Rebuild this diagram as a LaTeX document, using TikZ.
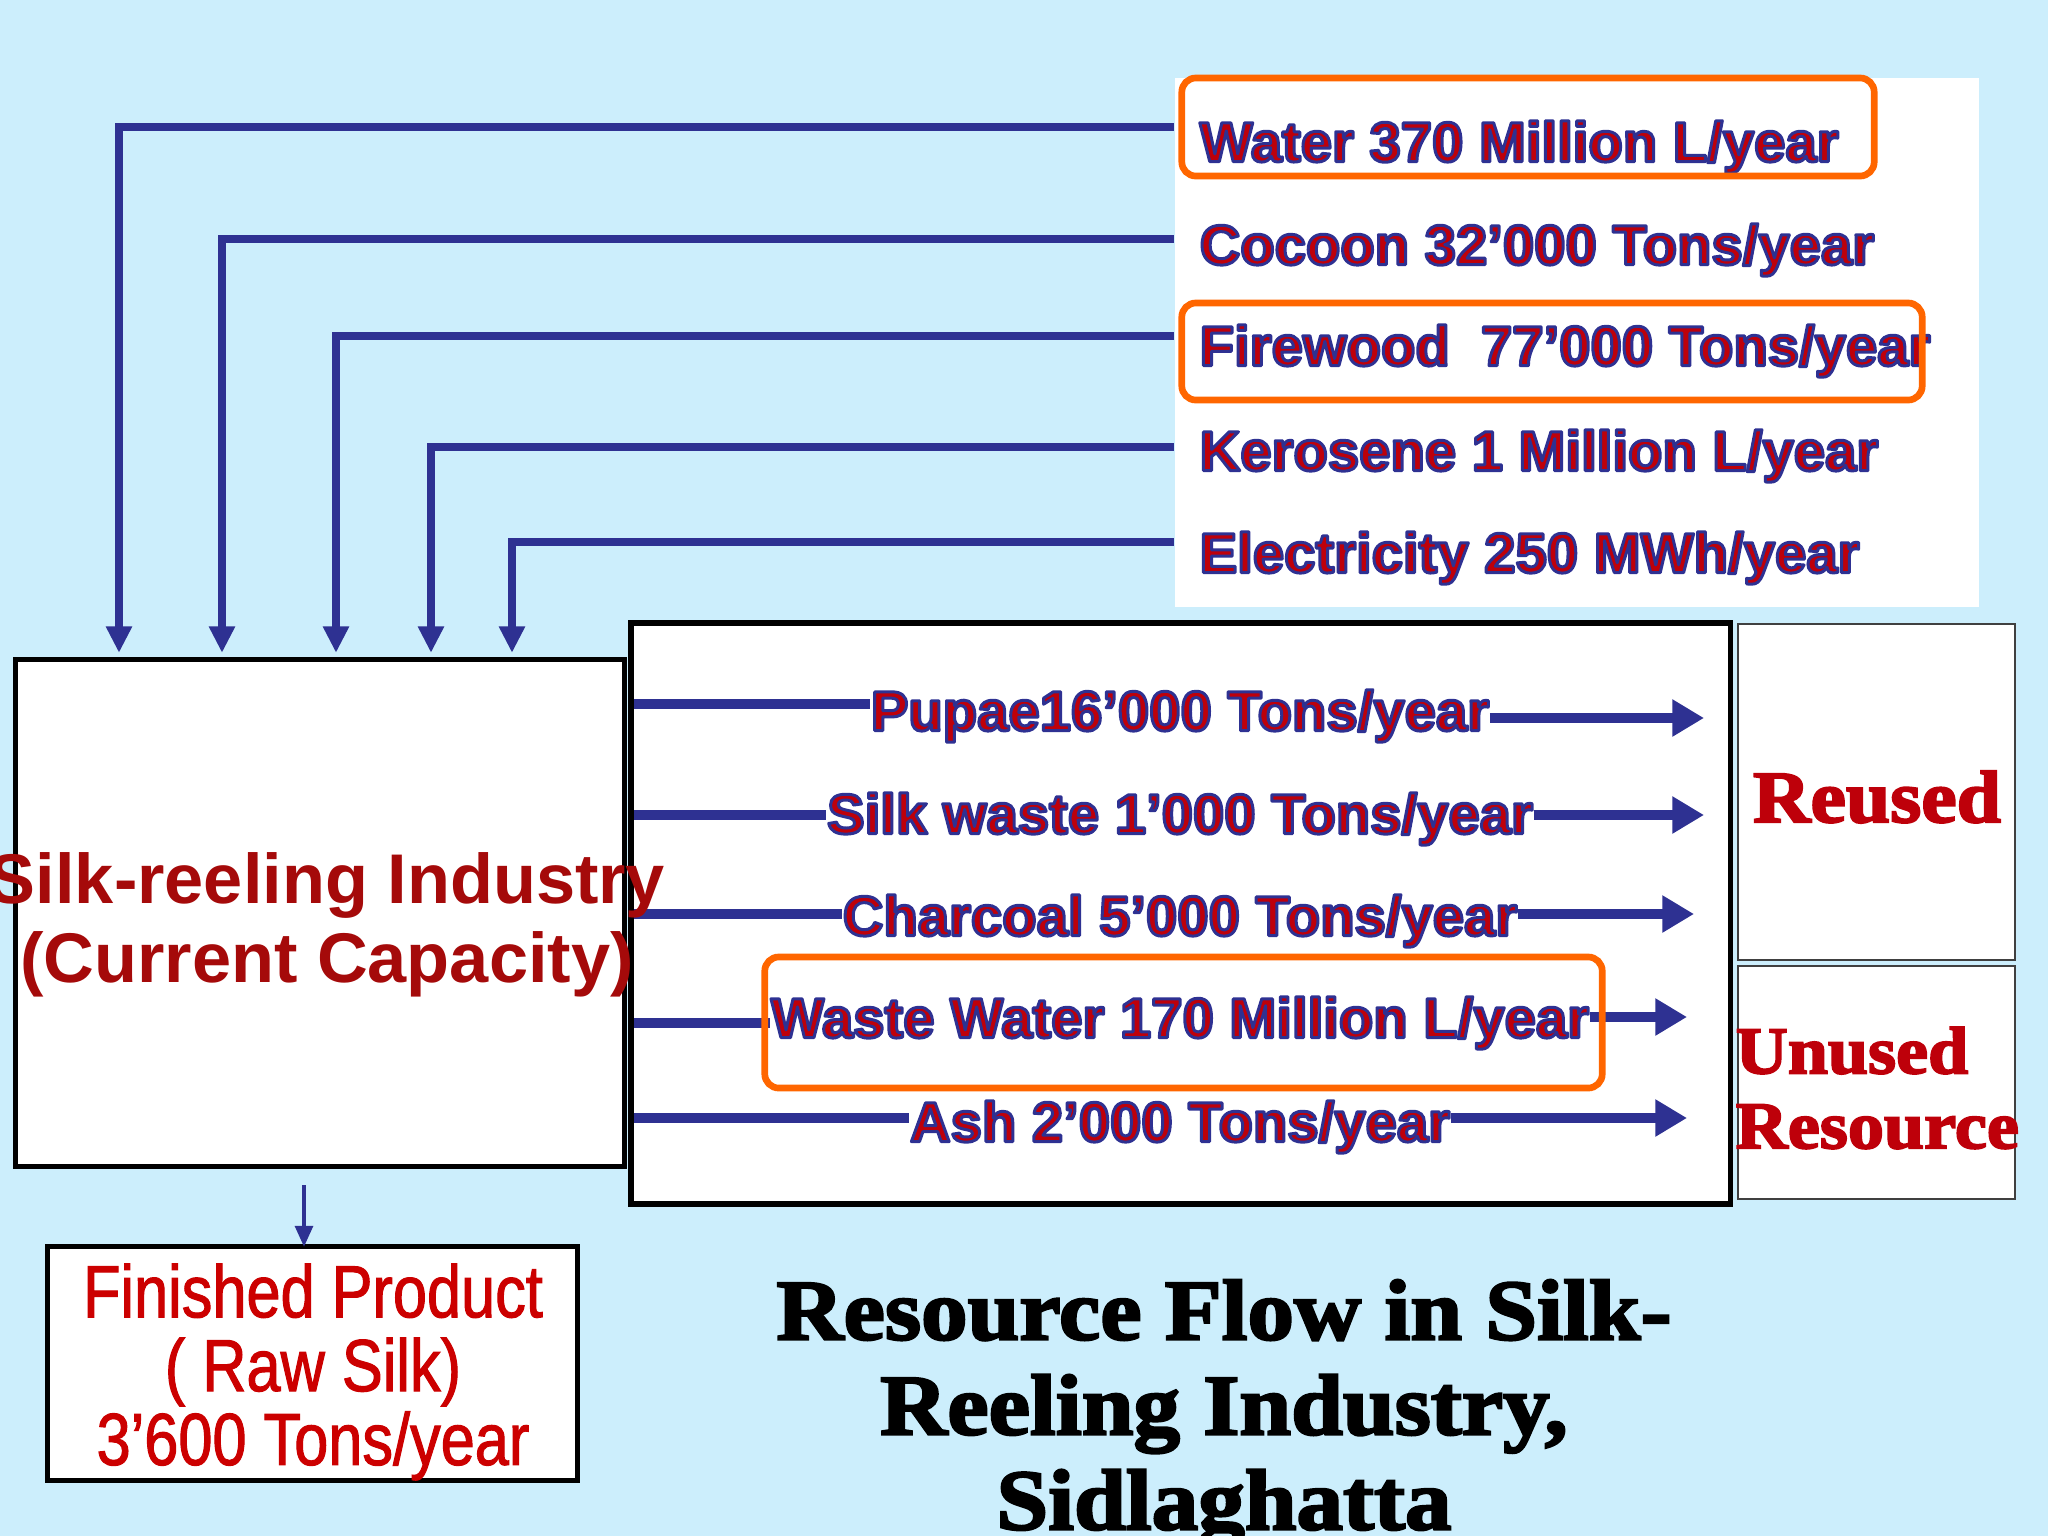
\documentclass[tikz,border=0pt]{standalone}
\usepackage{fontspec}
\usetikzlibrary{arrows.meta,positioning}
\setmainfont{Liberation Sans}
\newfontfamily\narrowfont[FakeStretch=0.83,FakeBold=1.4]{Liberation Sans}
\newfontfamily\posterfont[FakeStretch=1.08,FakeBold=2.8]{Liberation Serif}
\definecolor{rfSky}{RGB}{204,238,252}
\definecolor{rfBlue}{RGB}{46,49,146}
\definecolor{rfRed}{RGB}{190,0,10}
\definecolor{rfWine}{RGB}{165,10,10}
\definecolor{rfScarlet}{RGB}{204,0,0}
\definecolor{rfOrange}{RGB}{255,102,0}
% red letters with a blue rim (fill + stroke render mode)
\newcommand{\flowlabel}[1]{{\color{rfRed}\special{pdf:literal direct 0.18 0.192 0.573 RG 0.85 w 1 j 2 Tr}#1\special{pdf:literal direct 0 Tr 0 j}}}

\begin{document}
\begin{tikzpicture}[x=0.01cm,y=-0.01cm,
  box/.style={draw=black,fill=white,line width=1.4pt,inner sep=0pt,outer sep=0pt},
  thinbox/.style={draw=black!75,fill=white,line width=0.5pt,inner sep=0pt,outer sep=0pt},
  hilite/.style={draw=rfOrange,line width=1.9pt,rounded corners=4pt,inner sep=0pt},
  flow/.style={font=\bfseries\fontsize{16}{18}\selectfont,inner sep=0pt},
  poster/.style 2 args={font=\posterfont\bfseries\fontsize{#1}{#2}\selectfont,inner sep=0pt},
  inflow/.style={draw=rfBlue,line width=2.4pt,-{Triangle[length=7.5pt,width=7pt]}},
  outflow/.style={draw=rfBlue,line width=2.6pt,-{Triangle[length=9pt,width=10pt]}},
  stubline/.style={draw=rfBlue,line width=2.6pt,shorten <=1pt},
  prodflow/.style={draw=rfBlue,line width=1.2pt,-{Triangle[length=6pt,width=5pt]}}]
  \fill[rfSky] (0,0) rectangle (2048,1536);
  \useasboundingbox (0,0) rectangle (2048,1536);

  \node[fill=white,inner sep=0pt,minimum width=8.04cm,minimum height=5.29cm] (inpanel) at (1577,342.5) {};
  \node[box,minimum width=6.08cm,minimum height=5.06cm] (silk) at (320,913) {};
  \node[box,line width=1.6pt,minimum width=10.99cm,minimum height=5.81cm] (outbox) at (1180.5,913.5) {};
  \node[thinbox,minimum width=2.77cm,minimum height=3.36cm] (reused) at (1876.5,792) {};
  \node[thinbox,minimum width=2.77cm,minimum height=2.33cm] (unused) at (1876.5,1082.5) {};
  \node[box,minimum width=5.29cm,minimum height=2.33cm] (finished) at (312.5,1363.5) {};

  \foreach \n/\y/\t in {water/147/{Water 370 Million L/year},
      cocoon/250/{Cocoon 32’000 Tons/year},
      firewood/351/{Firewood~~77’000 Tons/year},
      kerosene/456/{Kerosene 1 Million L/year},
      electricity/558/{Electricity 250 MWh/year}}
    \node[flow,anchor=west] (\n) at (1199,\y) {\flowlabel{\t}};

  \foreach \y/\x in {127/119, 239/222, 336/336, 447/431, 542/512}
    \draw[inflow] (inpanel.west |- 0,\y) -| ([yshift=2pt]silk.north -| \x,0);

  \foreach \n/\y/\t in {pupae/716/{Pupae16’000 Tons/year},
      silkwaste/819/{Silk waste 1’000 Tons/year},
      charcoal/921/{Charcoal 5’000 Tons/year},
      wastewater/1023/{Waste Water 170 Million L/year},
      ash/1127/{Ash 2’000 Tons/year}}
    \node[flow] (\n) at (1180,\y) {\flowlabel{\t}};

  \foreach \n/\a/\b/\x in {pupae/704/718/1704, silkwaste/815/815/1704,
      charcoal/914/914/1694, wastewater/1023/1017/1687, ash/1118/1118/1687} {
    \draw[stubline] (outbox.west |- 0,\a) -- (\n.west |- 0,\a);
    \draw[outflow] (\n.east |- 0,\b) -- (\x,\b);
  }

  \node[font=\bfseries\fontsize{20}{22.5}\selectfont,text=rfWine,align=center,inner sep=0pt]
    (silklabel) at (327,925) {Silk-reeling Industry\\(Current Capacity)};

  \node[hilite,minimum width=6.92cm,minimum height=0.98cm] (waterring) at (1528,127) {};
  \node[hilite,minimum width=7.40cm,minimum height=0.97cm] (firering) at (1552,351.5) {};
  \node[hilite,minimum width=8.37cm,minimum height=1.31cm] (wastering) at (1183.5,1022.5) {};

  \node[poster={21}{24},text=rfRed] (reusedlabel) at (1877,797) {Reused};
  \node[poster={19}{21.3},text=rfRed,align=left,anchor=west] (unusedlabel) at (1735,1088)
    {Unused\\Resource};

  \draw[prodflow] ([yshift=-5.4pt]silk.south -| 304,0) -- (finished.north -| 304,0);
  \node[font=\narrowfont\fontsize{21}{21}\selectfont,text=rfScarlet,align=center,inner sep=0pt]
    (finishedlabel) at (313,1372) {Finished Product\\( Raw Silk)\\3’600 Tons/year};

  \node[poster={24.5}{27},align=center,anchor=north] (title) at (1224,1279)
    {Resource Flow in Silk-\\Reeling Industry,\\Sidlaghatta};
\end{tikzpicture}
\end{document}
